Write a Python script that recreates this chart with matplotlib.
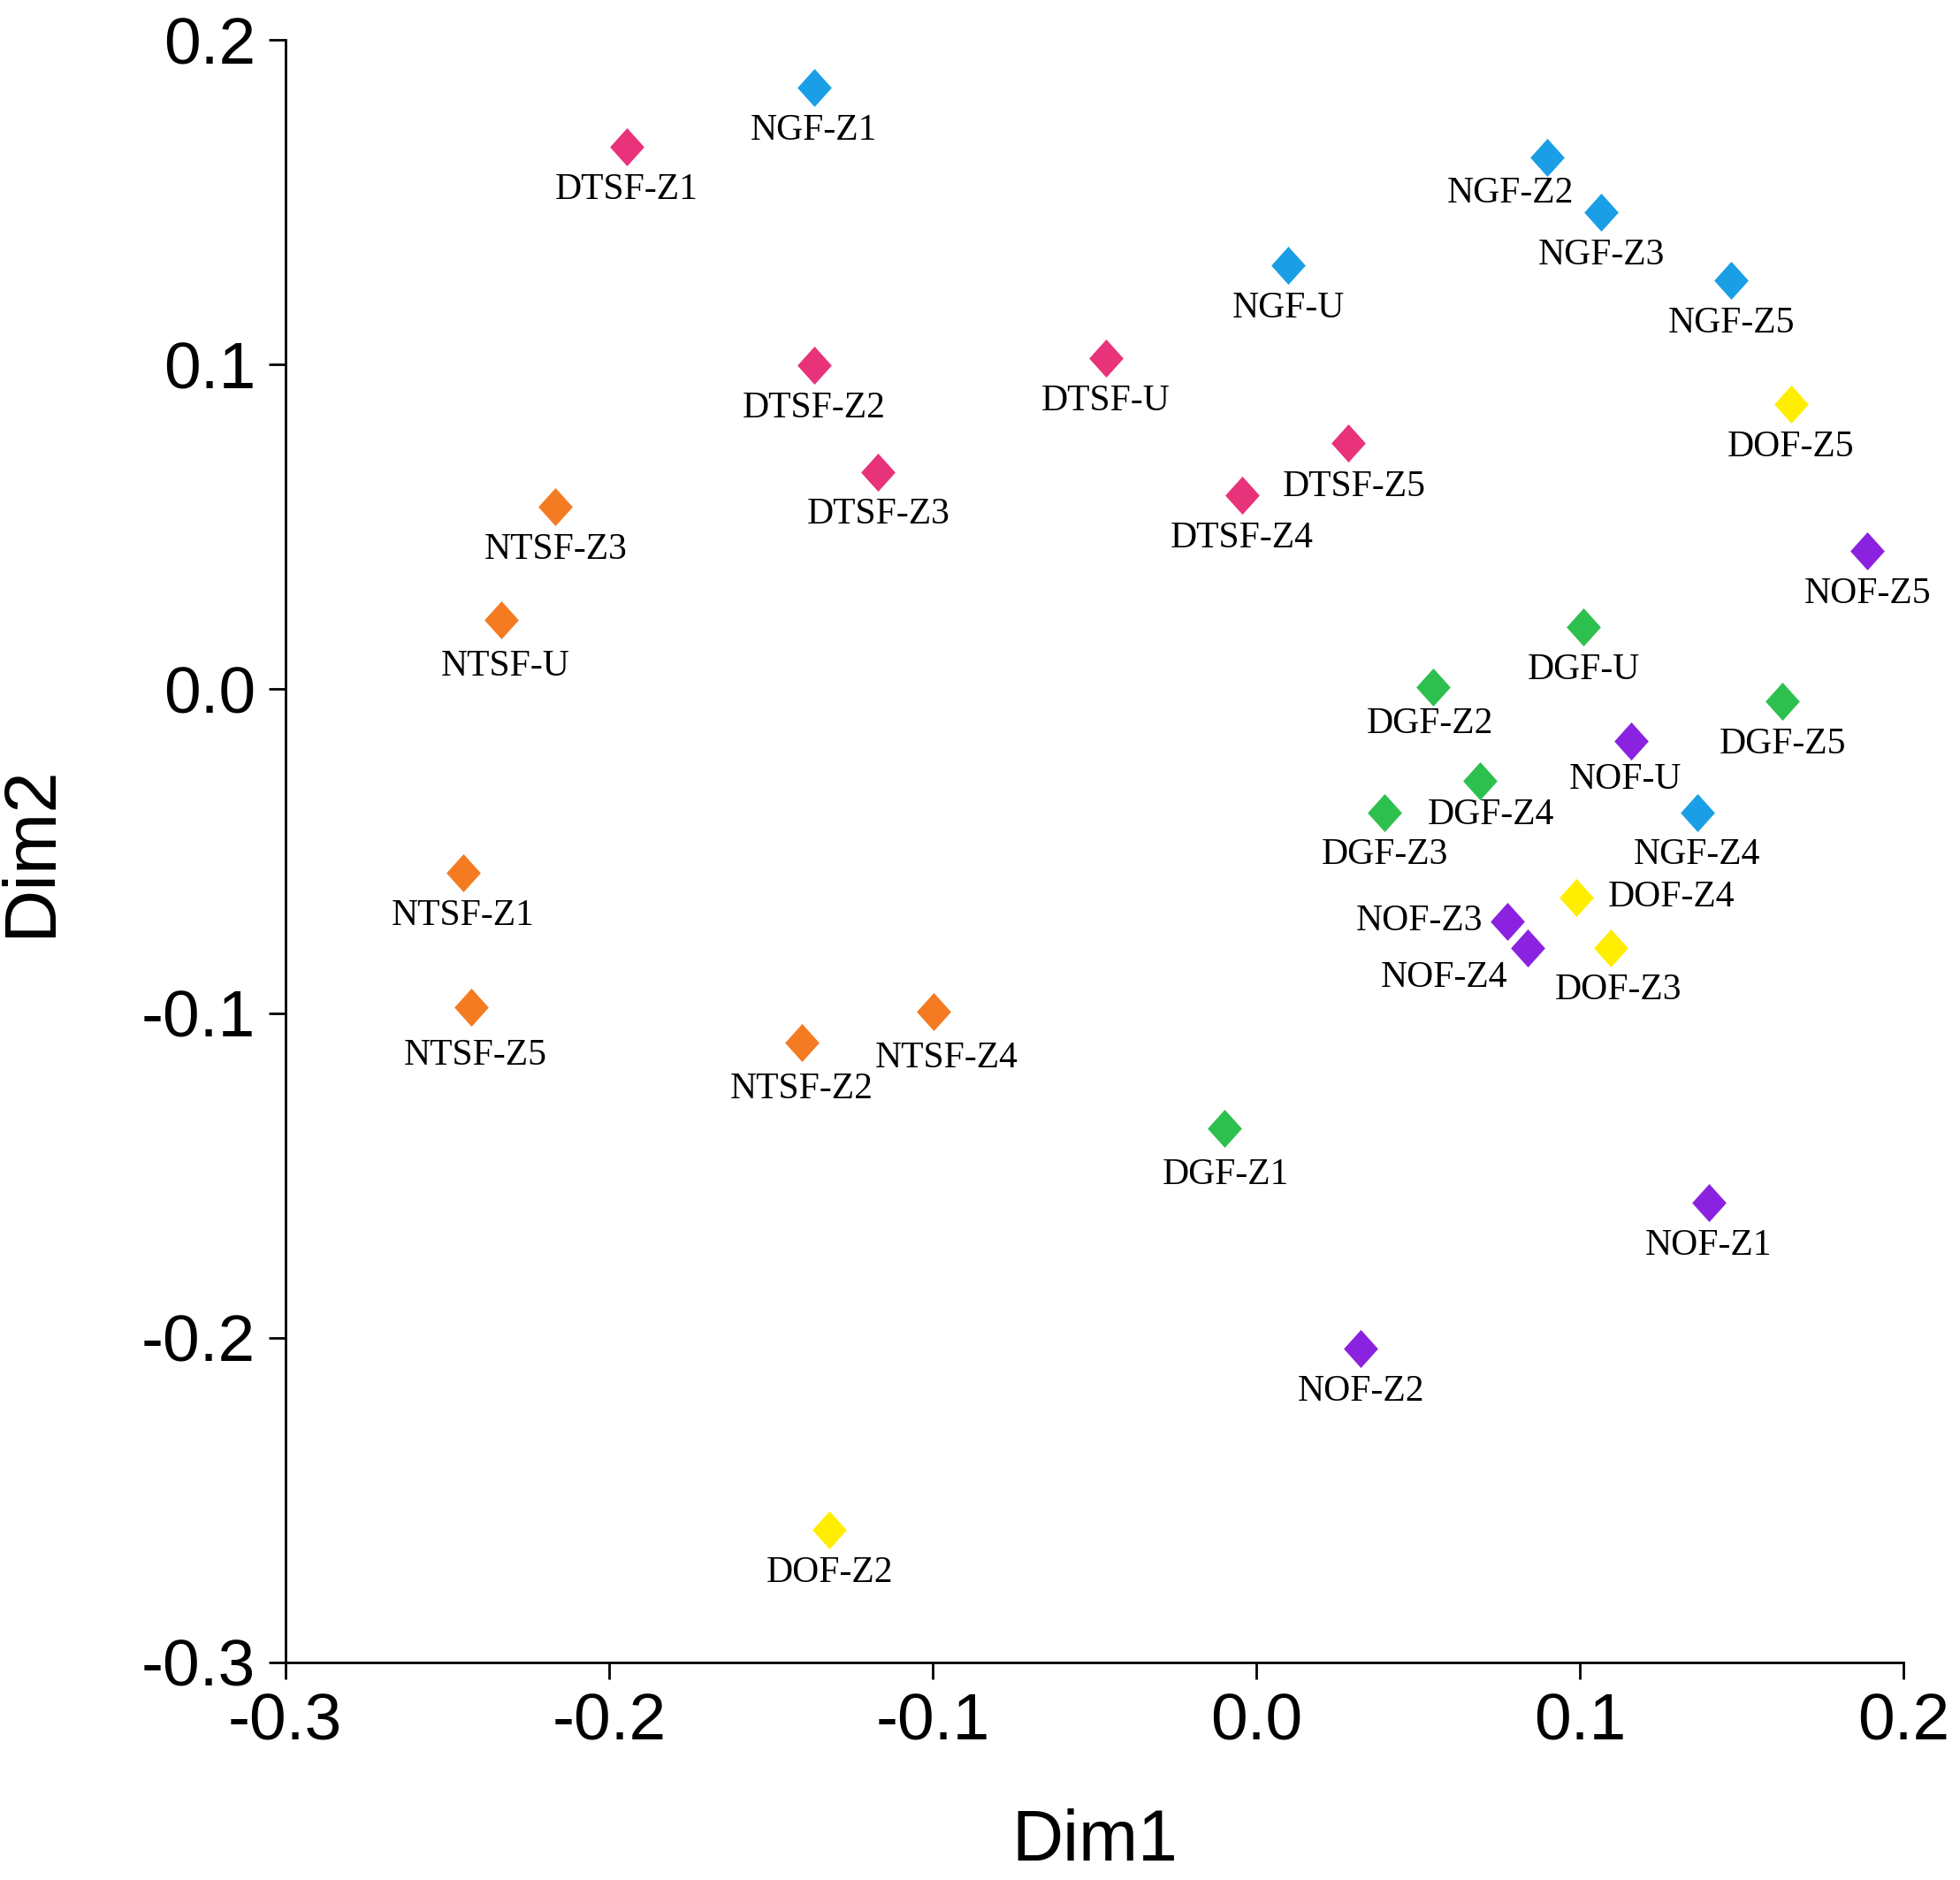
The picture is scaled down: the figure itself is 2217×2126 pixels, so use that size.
import matplotlib
matplotlib.use("Agg")
import matplotlib.pyplot as plt
from matplotlib.path import Path

plt.rcParams["axes.unicode_minus"] = False

# sample names, coordinates on the two dimensions and group
names = ["NGF-Z1", "DTSF-Z1", "NGF-Z2", "NGF-Z3", "NGF-U", "NGF-Z5",
         "DTSF-Z2", "DTSF-U", "DOF-Z5", "DTSF-Z3", "DTSF-Z5", "DTSF-Z4",
         "NTSF-Z3", "NOF-Z5", "NTSF-U", "DGF-U", "DGF-Z2", "DGF-Z5",
         "NOF-U", "DGF-Z4", "DGF-Z3", "NGF-Z4", "NTSF-Z1", "DOF-Z4",
         "NOF-Z3", "NOF-Z4", "DOF-Z3", "NTSF-Z5", "NTSF-Z4", "NTSF-Z2",
         "DGF-Z1", "NOF-Z1", "NOF-Z2", "DOF-Z2"]
dim1 = [-0.1366, -0.1945, 0.0899, 0.1065, 0.0099, 0.1467,
        -0.1366, -0.0465, 0.1652, -0.1168, 0.0284, -0.0044,
        -0.2165, 0.1888, -0.2332, 0.1011, 0.0547, 0.1625,
        0.1158, 0.0690, 0.0396, 0.1362, -0.2451, 0.0988,
        0.0775, 0.0837, 0.1096, -0.2424, -0.0998, -0.1404,
        -0.0098, 0.1397, 0.0323, -0.1319]
dim2 = [0.1853, 0.1670, 0.1637, 0.1468, 0.1306, 0.1259,
        0.0997, 0.1020, 0.0877, 0.0669, 0.0758, 0.0596,
        0.0561, 0.0426, 0.0214, 0.0191, 0.0005, -0.0037,
        -0.0160, -0.0284, -0.0380, -0.0380, -0.0566, -0.0643,
        -0.0716, -0.0797, -0.0797, -0.0982, -0.0994, -0.1090,
        -0.1353, -0.1584, -0.2032, -0.2591]
groups = [n.split("-")[0] for n in names]

colors = {"NGF": "#1A9FE6", "DTSF": "#E8327A", "NTSF": "#F47B22",
          "DGF": "#2EC04E", "NOF": "#8B22E0", "DOF": "#FFEE00"}

# label placement (offset in points, horizontal alignment)
offsets = {n: (0, -35, "center") for n in names}
offsets.update({
    "NGF-Z2": (-30, -29, "center"), "DTSF-Z5": (5, -36, "center"),
    "DGF-Z2": (-3, -30, "center"), "NOF-U": (-5, -32, "center"),
    "DGF-Z4": (9, -28, "center"), "DOF-Z4": (26, 0, "left"),
    "NOF-Z3": (-20, 0, "right"), "NOF-Z4": (-68, -25, "center"),
    "DOF-Z3": (6, -35, "center"), "NTSF-Z4": (11, -38, "center"),
    "NTSF-Z5": (3, -39, "center"), "NTSF-Z2": (0, -38, "center"),
    "DGF-Z1": (1, -38, "center"), "NTSF-U": (3, -38, "center"),
})

diamond = Path([(0, 1), (0.9, 0), (0, -1), (-0.9, 0), (0, 1)],
               [Path.MOVETO, Path.LINETO, Path.LINETO, Path.LINETO, Path.CLOSEPOLY])

fig = plt.figure(figsize=(22.17, 21.26), dpi=100)
ax = fig.add_axes([0.1455, 0.1158, 0.8258, 0.8629])

for g in colors:
    xs = [x for x, gg in zip(dim1, groups) if gg == g]
    ys = [y for y, gg in zip(dim2, groups) if gg == g]
    ax.plot(xs, ys, linestyle="none", marker=diamond, markersize=31,
            color=colors[g], markeredgewidth=0)

for n, x, y in zip(names, dim1, dim2):
    dx, dy, ha = offsets[n]
    ax.annotate(n, (x, y), xytext=(dx, dy), textcoords="offset points",
                ha=ha, va="center", fontsize=30, family="Liberation Serif")

ax.set_xlim(-0.3, 0.2)
ax.set_ylim(-0.3, 0.2)
ax.set_xticks([-0.3, -0.2, -0.1, 0.0, 0.1, 0.2])
ax.set_yticks([-0.3, -0.2, -0.1, 0.0, 0.1, 0.2])
ax.xaxis.set_major_formatter(matplotlib.ticker.FormatStrFormatter("%.1f"))
ax.yaxis.set_major_formatter(matplotlib.ticker.FormatStrFormatter("%.1f"))
for s in ["top", "right"]:
    ax.spines[s].set_visible(False)
for s in ["left", "bottom"]:
    ax.spines[s].set_linewidth(2)
ax.tick_params(direction="out", length=14, width=2, labelsize=54, pad=10)
for lab in ax.get_xticklabels() + ax.get_yticklabels():
    lab.set_family("Liberation Sans")
ax.set_xlabel("Dim1", fontsize=58, family="Liberation Sans", labelpad=45)
ax.set_ylabel("Dim2", fontsize=60, family="Liberation Sans", labelpad=62)

fig.savefig("out.png", dpi=100, facecolor="white")
